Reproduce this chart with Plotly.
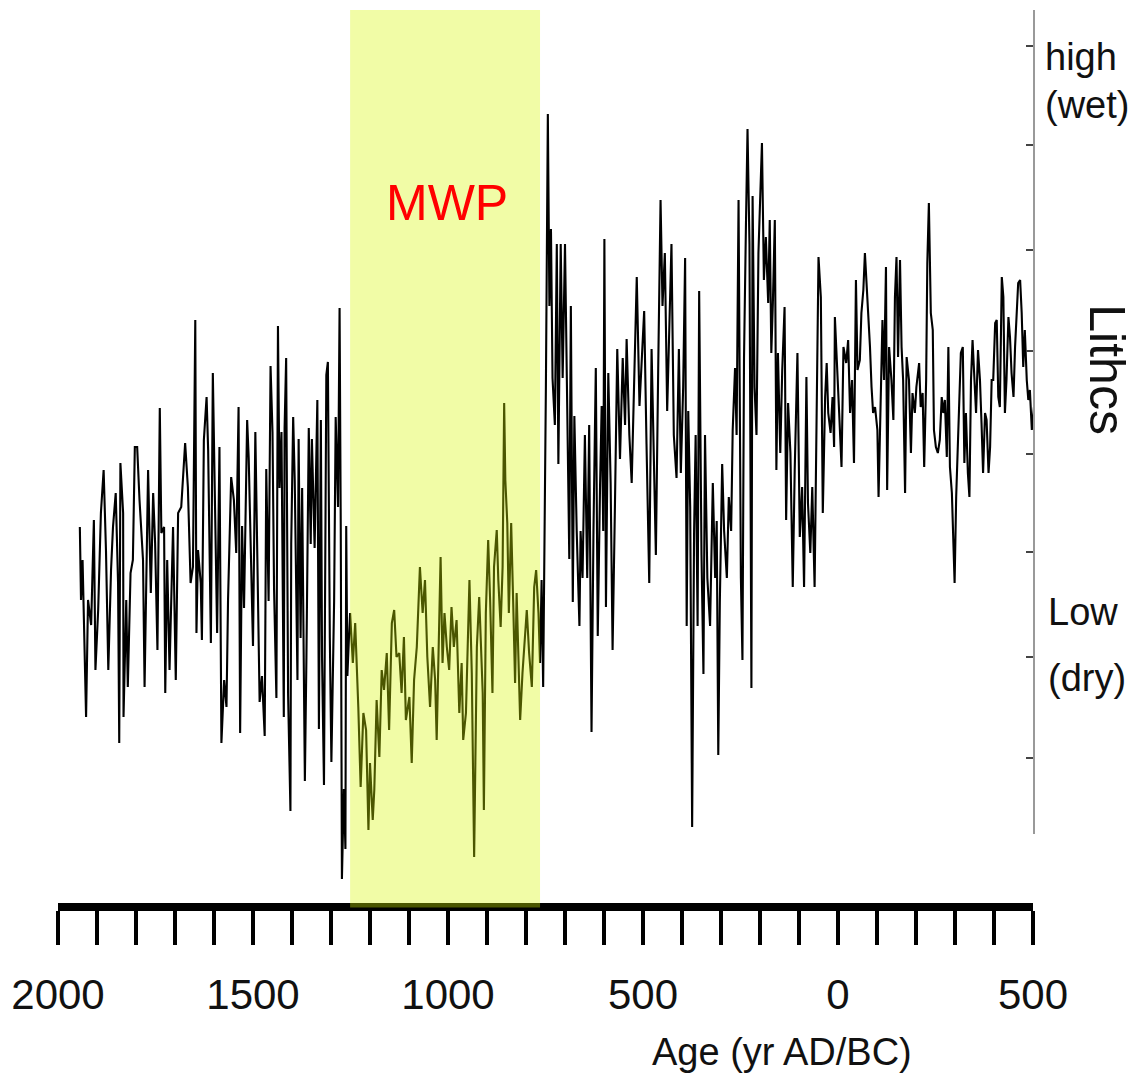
import plotly.graph_objects as go

# ---- data (age in yr AD (negative = BC), lithics index) ----
years_a = [1944,1941,1937,1928,1923,1915,1908,1904,1897,1890,1883,1877,1871,1864,1859,1852,1846,1843,1840,1833,
           1832,1825,1821,1814,1808,1803,1797,1791,1782,1778,1769,1762,1756,1751,1745,1739,1735,1728,1725,1720,
           1714,1705,1698,1692,1684,1674,1667,1660,1654,1648,1645,1641,1634,1631,1626,1619,1615,1608,1603,1598,
           1592,1586,1581,1574,1568,1564,1556,1549,1543,1537,1533]
lith_a = [333,260,300,143,260,235,340,190,250,347,390,310,190,290,333,367,277,117,397,347,
          143,260,173,287,300,413,413,360,300,173,390,267,367,317,210,452,327,333,167,300,
          190,333,180,347,353,417,373,277,293,540,227,310,277,220,420,463,410,217,487,360,
          227,413,117,180,153,260,383,360,307,453,127]

years_b = [1528,1523,1515,1511,1506,1504,1500,1494,1489,1483,1477,1470,1466,1460,1455,1450,1446,1440,1436,1432,
           1427,1421,1419,1415,1410,1404,1402,1397,1393,1386,1383,1378,1374,1367,1363,1357,1352,1349,1342,1335,
           1331,1326,1323,1318,1312,1308,1303,1299,1292,1288,1282,1278,1275,1272,1267,1263,1261,1258,1254]
lith_b = [334,252,440,402,316,267,214,428,297,158,184,124,391,259,494,428,271,162,534,372,
          428,143,432,502,165,49,316,443,380,180,421,222,372,79,203,432,316,421,312,460,
          131,440,203,75,485,498,222,98,259,443,353,552,334,-19,71,11,334,184,222]

years_c = [1251,1244,1238,1230,1224,1217,1210,1204,1200,1193,1189,1183,1176,1170,1164,1157,1151,1144,1138,1132,
           1125,1119,1113,1108,1099,1093,1087,1080,1072,1065,1059,1053,1046,1039,1033,1029,1025,1019,1014,1009,
           1003,997,991,985,978,971,965,961,954,945,939,933,926,920,911,908,903,897,892,886,
           882,875,871,865,860,856,853,848,844,838,833,828,824,815,809,798,792,785,779,774,
           768,764,760,756]
lith_c = [247,197,237,153,73,147,130,30,97,40,70,160,103,190,170,207,130,237,250,203,
          207,167,223,140,163,97,180,213,293,247,280,203,153,213,180,120,207,303,197,247,
          213,190,253,213,240,147,197,120,147,280,187,3,213,263,167,50,247,320,260,167,
          293,330,280,233,293,457,380,337,247,337,260,177,267,140,187,250,207,173,273,290,
          247,197,280,173]

years_d = [749,744,740,736,732,726,721,717,711,706,700,694,689,685,680,676,670,663,660,655,
           649,643,638,632,627,621,616,610,606,602,599,595,589,583,578,572,566,559,552,546,
           542,535,529,523,516,509,503,497,491,484,478,472,467,461,455,450,444,438,433,427,
           421,414,408,403,397,392,388,384,379,374,369,365,360,356,350,345,341,335,328,321,
           315,311,307,303,297,292,285,280,274,270,264,260,255,249,245,241,236,232,227,222,
           219,214,209,204]
lith_d = [473,746,554,631,482,435,616,396,616,482,616,449,301,554,258,444,329,234,329,282,
          425,282,435,128,329,492,224,377,454,329,621,253,487,377,210,353,511,401,502,435,
          521,425,377,473,583,454,506,549,416,277,511,377,305,492,660,554,607,449,540,616,
          425,382,511,387,473,602,234,449,353,33,329,425,234,569,305,186,425,282,234,377,
          282,339,105,258,396,329,282,363,329,430,492,425,660,282,200,502,636,731,616,172,
          664,473,425,607]

years_e = [195,190,185,179,175,171,167,162,158,154,148,143,137,133,128,122,116,111,104,98,
           92,87,81,77,71,66,60,57]
lith_e = [717,580,623,557,640,507,557,640,390,507,407,490,553,340,457,407,273,390,507,323,
          373,273,483,357,307,373,273,367]

years_f = [50,44,39,33,29,25,19,14,10,8,2,-3,-9,-14,-21,-26,-31,-36,-41,-46,
           -50,-56,-60,-65,-69,-73,-78,-82,-86,-90,-95,-101,-104,-109,-114,-118,-123,-126,-131,-137,
           -142,-146,-150,-154,-159,-163,-167,-172,-176,-182,-187,-191,-197,-201,-208,-212,-217,-221,-226,-229,
           -233,-238,-243,-246,-251,-256,-261,-266,-270,-274,-279,-283,-287,-292,-296,-299,-303,-307,-311,-315,
           -320,-324,-328,-333,-337,-341,-345,-350,-354,-359,-364,-368,-372,-377,-381,-386,-390,-394,-398,-403,
           -407,-411,-415,-420,-424,-428,-432,-437,-441,-445,-450,-454,-458,-462,-467,-471,-475,-479,-484,-488,
           -492,-497,-501,-505]
lith_f = [603,563,347,463,497,447,427,463,413,543,497,447,393,513,497,520,447,480,397,580,
          490,500,547,570,607,580,540,513,473,447,453,430,363,447,540,480,593,370,513,480,
          440,563,603,503,600,513,480,367,503,480,407,467,447,473,497,453,467,393,480,597,
          657,547,530,430,413,407,420,463,447,460,403,513,393,367,313,277,363,413,447,507,
          513,397,447,387,363,480,520,473,447,510,480,437,387,447,440,387,413,480,480,537,
          540,463,453,583,563,447,480,543,523,487,463,513,540,577,580,547,493,530,480,460,
          470,430,447,463]

age = years_a + years_b + years_c + years_d + years_e + years_f
lithics = lith_a + lith_b + lith_c + lith_d + lith_e + lith_f

mwp_start, mwp_end = 1251, 764
age_ticks = list(range(2000, -501, -100))
age_labels = {2000: "2000", 1500: "1500", 1000: "1000", 500: "500", 0: "0", -500: "500"}
lith_ticks = [102, 203, 308, 406, 509, 610, 715, 814]

FONT = "Liberation Sans, Arial, sans-serif"

fig = go.Figure()
fig.add_trace(go.Scatter(x=age, y=lithics, mode="lines",
                         line=dict(color="black", width=2.1),
                         xaxis="x", yaxis="y", showlegend=False, hoverinfo="skip"))
fig.add_trace(go.Scatter(x=[], y=[], mode="lines", xaxis="x", yaxis="y2", showlegend=False))

fig.add_shape(type="rect", xref="x", yref="paper", x0=mwp_start, x1=mwp_end, y0=-0.005, y1=1,
              fillcolor="rgba(215,245,0,0.35)", line=dict(width=0), layer="above")

fig.update_layout(
    template="none",
    width=1138, height=1081,
    margin=dict(l=58, r=105, t=10, b=178, autoexpand=False),
    paper_bgcolor="white", plot_bgcolor="rgba(0,0,0,0)",
    showlegend=False,
    xaxis=dict(range=[2000, -500], anchor="y", automargin=False,
               tickmode="array", tickvals=age_ticks,
               ticktext=[age_labels.get(v, "") for v in age_ticks],
               ticks="outside", ticklen=34, tickwidth=3.5, tickcolor="black",
               showline=True, linewidth=8, linecolor="black",
               showgrid=False, zeroline=False, ticklabelstandoff=14,
               tickfont=dict(family=FONT, size=42, color="#111")),
    yaxis=dict(range=[-43, 850], domain=[0, 1], visible=False, automargin=False,
               showgrid=False, zeroline=False),
    yaxis2=dict(range=[26, 850], domain=[0.0773, 1], anchor="x", side="right",
                automargin=False,
                showline=True, linecolor="#999", linewidth=2,
                tickmode="array", tickvals=lith_ticks, ticks="inside",
                ticklen=7, tickwidth=2, tickcolor="#444",
                showticklabels=False, showgrid=False, zeroline=False),
)

def lab(text, x, y, size=38, xanchor="left", angle=0, color="#111", xref="paper"):
    fig.add_annotation(text=text, x=x, y=y, xref=xref, yref="paper",
                       xanchor=xanchor, yanchor="middle", showarrow=False,
                       textangle=angle, font=dict(family=FONT, size=size, color=color))

lab("MWP", 1003, 0.784, size=50, xanchor="center", color="#ff0000", xref="x")
lab("high", 1.0103, 0.947)
lab("(wet)", 1.0103, 0.894)
lab("Low", 1.0133, 0.326)
lab("(dry)", 1.0133, 0.252)
lab("Lithcs", 1.0765, 0.597, size=50, xanchor="center", angle=90)
lab("Age (yr AD/BC)", 0.7426, -0.167, size=38, xanchor="center")

fig.write_html("out.html")
